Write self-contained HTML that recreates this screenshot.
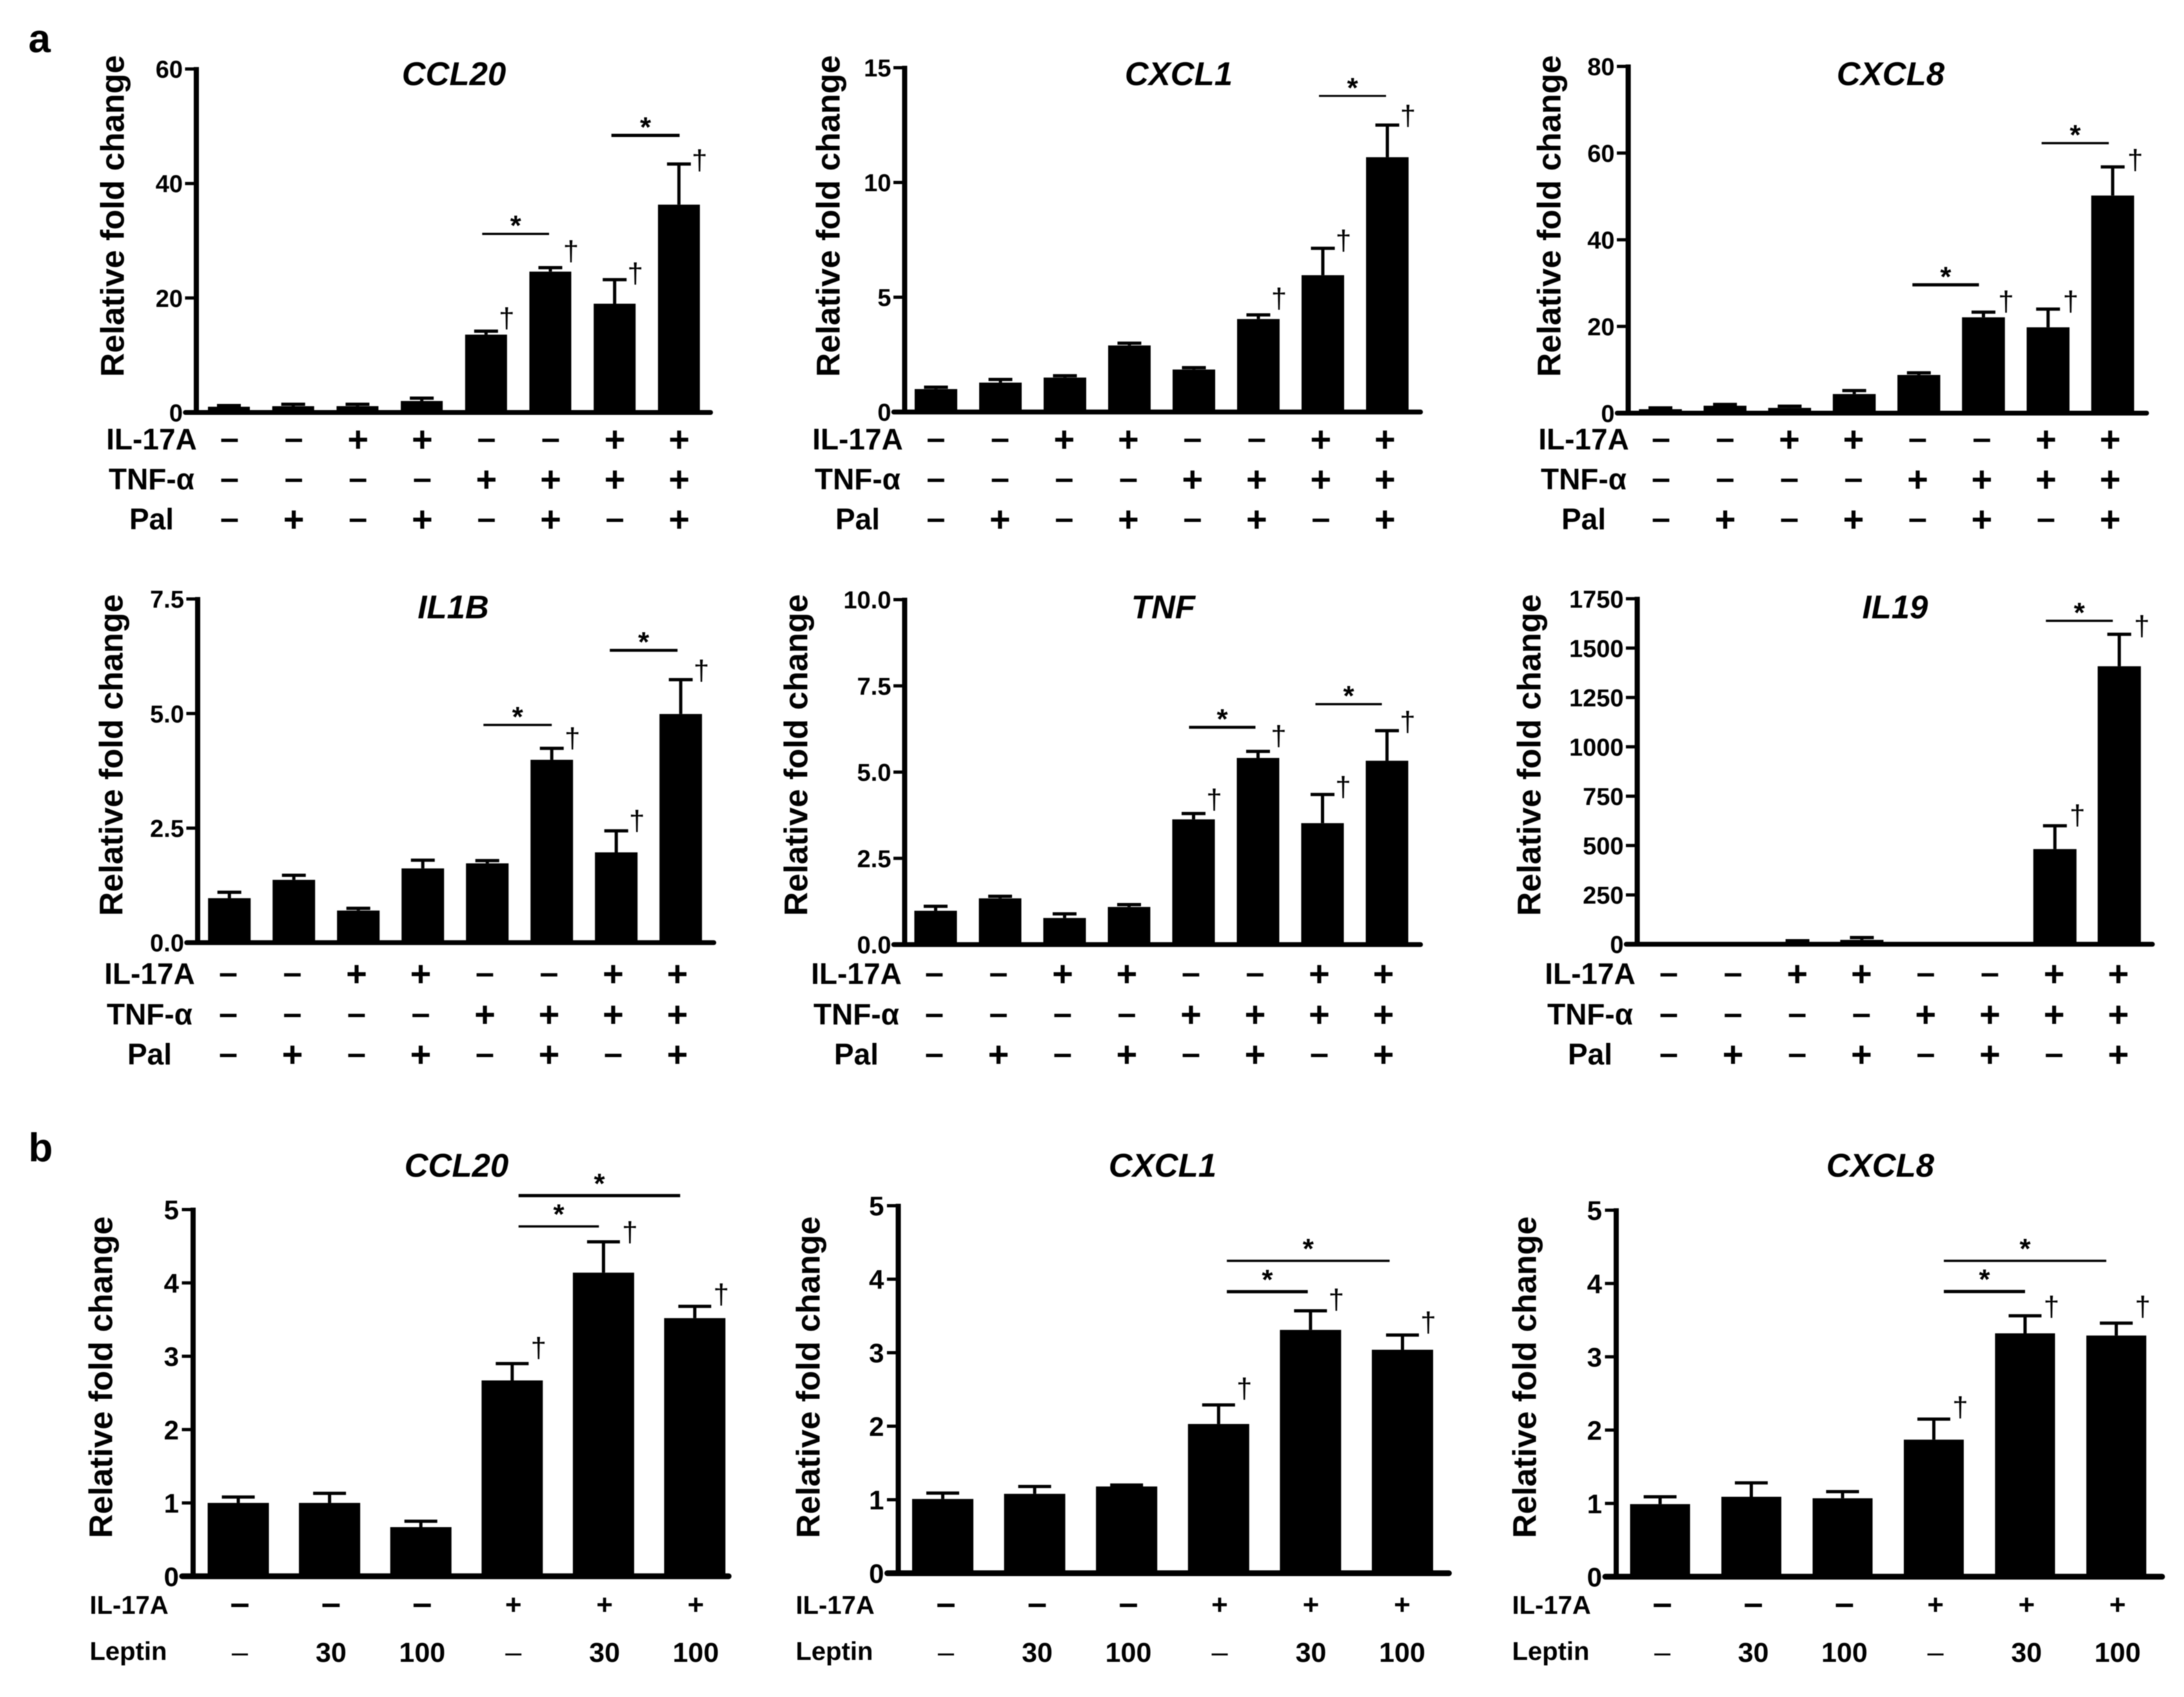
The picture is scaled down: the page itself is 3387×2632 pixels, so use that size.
<!DOCTYPE html>
<html lang="en">
<head>
<meta charset="utf-8">
<title>Relative fold change panels</title>
<style>
html,body{margin:0;padding:0;background:#fff;}
svg{display:block;filter:blur(0.9px);}
text{font-family:"Liberation Sans",Arial,sans-serif;fill:#000;}
</style>
</head>
<body>
<svg id="figure" xmlns="http://www.w3.org/2000/svg" width="3387" height="2632" viewBox="0 0 3387 2632">
  <rect width="3387" height="2632" fill="#fff"/>
  <text x="44" y="81" font-size="62" font-weight="bold">a</text>
  <text x="44" y="1801" font-size="62" font-weight="bold">b</text>
</svg>
<script>
const il17aMarks = ['–','–','+','+','–','–','+','+'];
const tnfMarks = ['–','–','–','–','+','+','+','+'];
const palMarks = ['–','+','–','+','–','+','–','+'];
const il17aLeptinMarks = ['–','–','–','+','+','+'];
const leptinMarks = ['–','30','100','–','30','100'];

const ccl20aTicks = ['0','20','40','60'];
const ccl20aValues = [1,1.09,1.1,2,13.6,24.6,19,36.3];
const ccl20aErrors = [1.2,1.43,1.43,2.5,14.2,25.3,23.2,43.4];
const ccl20aDaggers = [[4,16.3],[5,28],[6,24.1],[7,43.9]];
const ccl20aBrackets = [[3.94,4.98,31.2],[5.95,7.01,48.4]];

const cxcl1aTicks = ['0','5','10','15'];
const cxcl1aValues = [1,1.28,1.5,2.9,1.85,4.05,5.96,11.1];
const cxcl1aErrors = [1.08,1.42,1.58,3,1.93,4.23,7.13,12.5];
const cxcl1aDaggers = [[5,4.9],[6,7.43],[7,12.87]];
const cxcl1aBrackets = [[5.94,6.98,13.77]];

const cxcl8aTicks = ['0','20','40','60','80'];
const cxcl8aValues = [0.9,1.7,1.2,4.4,8.8,22.1,19.8,50.2];
const cxcl8aErrors = [1.2,2,1.6,5.2,9.3,23.3,24,56.8];
const cxcl8aDaggers = [[5,25.55],[6,25.55],[7,58.2]];
const cxcl8aBrackets = [[3.9,4.93,29.6],[5.9,6.94,62.3]];

const il1bTicks = ['0.0','2.5','5.0','7.5'];
const il1bValues = [0.97,1.37,0.7,1.62,1.73,3.99,1.97,4.99];
const il1bErrors = [1.1,1.47,0.75,1.8,1.79,4.24,2.44,5.74];
const il1bDaggers = [[5,4.44],[6,2.64],[7,5.92]];
const il1bBrackets = [[3.94,5,4.75],[5.9,6.95,6.38]];

const tnfTicks = ['0.0','2.5','5.0','7.5','10.0'];
const tnfValues = [0.98,1.34,0.77,1.09,3.63,5.41,3.52,5.33];
const tnfErrors = [1.11,1.4,0.89,1.16,3.8,5.6,4.35,6.2];
const tnfDaggers = [[4,4.18],[5,6.02],[6,4.54],[7,6.43]];
const tnfBrackets = [[3.93,4.96,6.3],[5.89,6.92,6.97]];

const il19Ticks = ['0','250','500','750','1000','1250','1500','1750'];
const il19Values = [1,1,10,22,1,1,482,1408];
const il19Errors = [1,1,18,34,1,1,600,1570];
const il19Daggers = [[6,649],[7,1607]];
const il19Brackets = [[5.86,6.9,1638]];

const ccl20bTicks = ['0','1','2','3','4','5'];
const ccl20bValues = [1,1,0.67,2.67,4.14,3.52];
const ccl20bErrors = [1.08,1.13,0.75,2.9,4.56,3.68];
const ccl20bDaggers = [[3,3.1],[4,4.68],[5,3.83]];
const ccl20bBrackets = [[3.07,3.95,4.77],[3.07,4.84,5.19]];

const cxcl1bTicks = ['0','1','2','3','4','5'];
const cxcl1bValues = [1.01,1.08,1.18,2.03,3.31,3.04];
const cxcl1bErrors = [1.09,1.18,1.2,2.29,3.57,3.24];
const cxcl1bDaggers = [[3,2.5],[4,3.71],[5,3.4]];
const cxcl1bBrackets = [[3.09,3.97,3.83],[3.09,4.86,4.25]];

const cxcl8bTicks = ['0','1','2','3','4','5'];
const cxcl8bValues = [0.99,1.09,1.07,1.87,3.32,3.29];
const cxcl8bErrors = [1.09,1.28,1.16,2.15,3.56,3.46];
const cxcl8bDaggers = [[3,2.3],[4,3.67],[5,3.67]];
const cxcl8bBrackets = [[3.11,4,3.89],[3.11,4.89,4.31]];

const NS = 'http://www.w3.org/2000/svg';
const figure = document.getElementById('figure');

function node(parent, tag, attrs, content) {
  const el = document.createElementNS(NS, tag);
  for (const k in attrs) el.setAttribute(k, attrs[k]);
  if (content !== undefined) el.textContent = content;
  parent.appendChild(el);
  return el;
}

function drawPanel(p) {
  const maxTick = parseFloat(p.ticks[p.ticks.length - 1]);
  const yScale = v => p.zero - (v / maxTick) * (p.zero - p.top);
  const xScale = i => p.first + i * p.step;
  const markScale = i => p.markFirst + i * p.markStep;

  const g = node(figure, 'g', {});
  
  

  const title = node(g, 'text', {x: p.titleX, y: p.titleY + 18, 'font-size': 51, 'font-weight': 'bold', 'font-style': 'italic', 'text-anchor': 'middle'}, p.title);
  
  

  const yTitle = node(g, 'text', {transform: 'translate(' + (p.yLabelX + 16) + ',' + p.yLabelY + ') rotate(-90)', 'font-size': 51, 'font-weight': 'bold', 'text-anchor': 'middle', textLength: 499, lengthAdjust: 'spacingAndGlyphs'}, 'Relative fold change');
  
  

  p.values.forEach((v, i) => {
    const bar = node(g, 'rect', {x: xScale(i) - p.barWidth / 2, y: yScale(v), width: p.barWidth, height: p.zero - yScale(v), fill: '#000'});
    
    

    const errorTop = yScale(p.errors[i]);
    const stem = node(g, 'line', {x1: xScale(i), x2: xScale(i), y1: yScale(v), y2: errorTop, stroke: '#000', 'stroke-width': 5});
    
    

    const cap = node(g, 'line', {x1: xScale(i) - p.capWidth / 2, x2: xScale(i) + p.capWidth / 2, y1: errorTop, y2: errorTop, stroke: '#000', 'stroke-width': 5});
    
    
  });

  const yAxis = node(g, 'line', {x1: p.axisX, x2: p.axisX, y1: p.top - 3, y2: p.zero + 3, stroke: '#000', 'stroke-width': 8});
  
  

  const xAxis = node(g, 'line', {x1: p.axisX - 17, x2: p.axisEnd, y1: p.zero, y2: p.zero, stroke: '#000', 'stroke-width': p.xAxisWidth, 'stroke-linecap': 'round'});
  
  

  p.ticks.forEach(t => {
    const ty = yScale(parseFloat(t));
    const tick = node(g, 'line', {x1: p.axisX - 17.5, x2: p.axisX, y1: ty, y2: ty, stroke: '#000', 'stroke-width': 5});
    
    

    const label = node(g, 'text', {x: p.axisX - p.tickGap, y: ty + p.tickFont * 0.36, 'font-size': p.tickFont, 'font-weight': 'bold', 'text-anchor': 'end'}, t);
    
    
  });

  p.daggers.forEach(d => {
    const dagger = node(g, 'text', {x: xScale(d[0]) + p.daggerDx, y: yScale(d[1]) + 13, 'font-size': 44, 'text-anchor': 'middle'}, '†');
    
    
  });

  p.brackets.forEach((b, i) => {
    const by = yScale(b[2]);
    const line = node(g, 'line', {x1: xScale(b[0]), x2: xScale(b[1]), y1: by, y2: by, stroke: '#000', 'stroke-width': p.bracketWidths[i]});
    
    

    const star = node(g, 'text', {x: (xScale(b[0]) + xScale(b[1])) / 2, y: by - p.starLift + 22, 'font-size': 44, 'text-anchor': 'middle', 'font-weight': 'bold'}, '*');
    
    
  });

  p.rows.forEach(r => {
    const rowLabel = node(g, 'text', {x: p.rowLabelX, y: r.y + p.rowBase, 'font-size': p.rowFont, 'font-weight': 'bold', 'text-anchor': p.rowAnchor}, r.label);
    
    

    r.marks.forEach((m, i) => {
      const isPlus = m === '+';
      const isDash = m === '–';
      const size = isDash ? r.dashFont : (isPlus ? r.plusFont : r.numFont);
      let yPos = r.y + size * 0.32;
      if (isPlus) yPos = r.y - 3 + size * 0.33;
      if (isDash) yPos = r.y - 2 + r.dashDrop + size * 0.27;
      const mark = node(g, 'text', {x: markScale(i), y: yPos, 'font-size': size, 'font-weight': r.dashBold || !isDash ? 'bold' : 'normal', 'text-anchor': 'middle'}, m);
      
      
    });
  });
}

function rowsA(zero, il, tn, pa) {
  return [
    {label: 'IL-17A', marks: il17aMarks, y: zero + il, dashFont: 52, plusFont: 56, numFont: 42, dashBold: true, dashDrop: 0},
    {label: 'TNF-α', marks: tnfMarks, y: zero + tn, dashFont: 52, plusFont: 56, numFont: 42, dashBold: true, dashDrop: 0},
    {label: 'Pal', marks: palMarks, y: zero + pa, dashFont: 52, plusFont: 56, numFont: 42, dashBold: true, dashDrop: 0}
  ];
}
function rowsB() {
  return [
    {label: 'IL-17A', marks: il17aLeptinMarks, y: 2492, dashFont: 54, plusFont: 44, numFont: 43, dashBold: true, dashDrop: 0},
    {label: 'Leptin', marks: leptinMarks, y: 2563.5, dashFont: 45, plusFont: 44, numFont: 43, dashBold: false, dashDrop: 4}
  ];
}

const styleA = {xAxisWidth: 7.5, capWidth: 37, tickGap: 21, tickFont: 38, starLift: 20, rowAnchor: 'middle', rowFont: 46, rowBase: 12};
const styleB = {xAxisWidth: 9, capWidth: 51, tickGap: 22, tickFont: 42, starLift: 26, rowAnchor: 'start', rowFont: 40, rowBase: 11};

drawPanel(Object.assign({}, styleA, {id: 'ccl20-a', title: 'CCL20', titleX: 704, titleY: 114, axisX: 304.5, top: 107, zero: 639.7, axisEnd: 1102, first: 355, step: 99.7, markFirst: 356, markStep: 99.6, barWidth: 65, daggerDx: 32, yLabelX: 176, yLabelY: 335, rowLabelX: 235, bracketWidths: [3.5,5], ticks: ccl20aTicks, values: ccl20aValues, errors: ccl20aErrors, daggers: ccl20aDaggers, brackets: ccl20aBrackets, rows: rowsA(639, 46, 108, 170)}));
drawPanel(Object.assign({}, styleA, {id: 'cxcl1-a', title: 'CXCL1', titleX: 1828, titleY: 114, axisX: 1403, top: 105, zero: 639, axisEnd: 2203, first: 1451.5, step: 100, markFirst: 1451.4, markStep: 99.5, barWidth: 66, daggerDx: 32, yLabelX: 1286, yLabelY: 335, rowLabelX: 1330, bracketWidths: [3], ticks: cxcl1aTicks, values: cxcl1aValues, errors: cxcl1aErrors, daggers: cxcl1aDaggers, brackets: cxcl1aBrackets, rows: rowsA(639, 46, 108, 170)}));
drawPanel(Object.assign({}, styleA, {id: 'cxcl8-a', title: 'CXCL8', titleX: 2932, titleY: 114, axisX: 2525, top: 103, zero: 640.7, axisEnd: 3329, first: 2575, step: 100.2, markFirst: 2576, markStep: 99.5, barWidth: 66.5, daggerDx: 35, yLabelX: 2404, yLabelY: 335, rowLabelX: 2456, bracketWidths: [5,3.5], ticks: cxcl8aTicks, values: cxcl8aValues, errors: cxcl8aErrors, daggers: cxcl8aDaggers, brackets: cxcl8aBrackets, rows: rowsA(639, 46, 108, 170)}));

drawPanel(Object.assign({}, styleA, {id: 'il1b', title: 'IL1B', titleX: 703, titleY: 941, axisX: 306.5, top: 929, zero: 1462, axisEnd: 1107, first: 355.7, step: 100, markFirst: 354, markStep: 99.5, barWidth: 66, daggerDx: 32, yLabelX: 174, yLabelY: 1171, rowLabelX: 232, bracketWidths: [3.5,4.5], ticks: il1bTicks, values: il1bValues, errors: il1bErrors, daggers: il1bDaggers, brackets: il1bBrackets, rows: rowsA(1462, 52, 115, 177)}));
drawPanel(Object.assign({}, styleA, {id: 'tnf', title: 'TNF', titleX: 1804, titleY: 941, axisX: 1403, top: 930, zero: 1465, axisEnd: 2203, first: 1451, step: 100, markFirst: 1449, markStep: 99.5, barWidth: 66, daggerDx: 32, yLabelX: 1236, yLabelY: 1171, rowLabelX: 1328, bracketWidths: [4.5,3.5], ticks: tnfTicks, values: tnfValues, errors: tnfErrors, daggers: tnfDaggers, brackets: tnfBrackets, rows: rowsA(1462, 52, 115, 177)}));
drawPanel(Object.assign({}, styleA, {id: 'il19', title: 'IL19', titleX: 2939, titleY: 941, axisX: 2539, top: 928.6, zero: 1464.5, axisEnd: 3338, first: 2588, step: 99.8, markFirst: 2588, markStep: 99.6, barWidth: 67, daggerDx: 35, yLabelX: 2373, yLabelY: 1171, rowLabelX: 2466, bracketWidths: [3.5], ticks: il19Ticks, values: il19Values, errors: il19Errors, daggers: il19Daggers, brackets: il19Brackets, rows: rowsA(1462, 52, 115, 177)}));

drawPanel(Object.assign({}, styleB, {id: 'ccl20-b', title: 'CCL20', titleX: 708, titleY: 1807, axisX: 299.5, top: 1876, zero: 2444.7, axisEnd: 1130, first: 369.5, step: 141.6, markFirst: 372, markStep: 141.4, barWidth: 95, daggerDx: 41, yLabelX: 158, yLabelY: 2136, rowLabelX: 139, bracketWidths: [3.5,5], ticks: ccl20bTicks, values: ccl20bValues, errors: ccl20bErrors, daggers: ccl20bDaggers, brackets: ccl20bBrackets, rows: rowsB()}));
drawPanel(Object.assign({}, styleB, {id: 'cxcl1-b', title: 'CXCL1', titleX: 1803, titleY: 1807, axisX: 1393, top: 1870, zero: 2440, axisEnd: 2247, first: 1462, step: 142.6, markFirst: 1467, markStep: 141.5, barWidth: 95, daggerDx: 40, yLabelX: 1255, yLabelY: 2136, rowLabelX: 1234, bracketWidths: [5,3.5], ticks: cxcl1bTicks, values: cxcl1bValues, errors: cxcl1bErrors, daggers: cxcl1bDaggers, brackets: cxcl1bBrackets, rows: rowsB()}));
drawPanel(Object.assign({}, styleB, {id: 'cxcl8-b', title: 'CXCL8', titleX: 2916, titleY: 1807, axisX: 2506.5, top: 1877, zero: 2445.4, axisEnd: 3353, first: 2574.5, step: 141.5, markFirst: 2578, markStep: 141.2, barWidth: 93, daggerDx: 41, yLabelX: 2366, yLabelY: 2136, rowLabelX: 2345, bracketWidths: [5,3.5], ticks: cxcl8bTicks, values: cxcl8bValues, errors: cxcl8bErrors, daggers: cxcl8bDaggers, brackets: cxcl8bBrackets, rows: rowsB()}));
</script>
</body>
</html>
